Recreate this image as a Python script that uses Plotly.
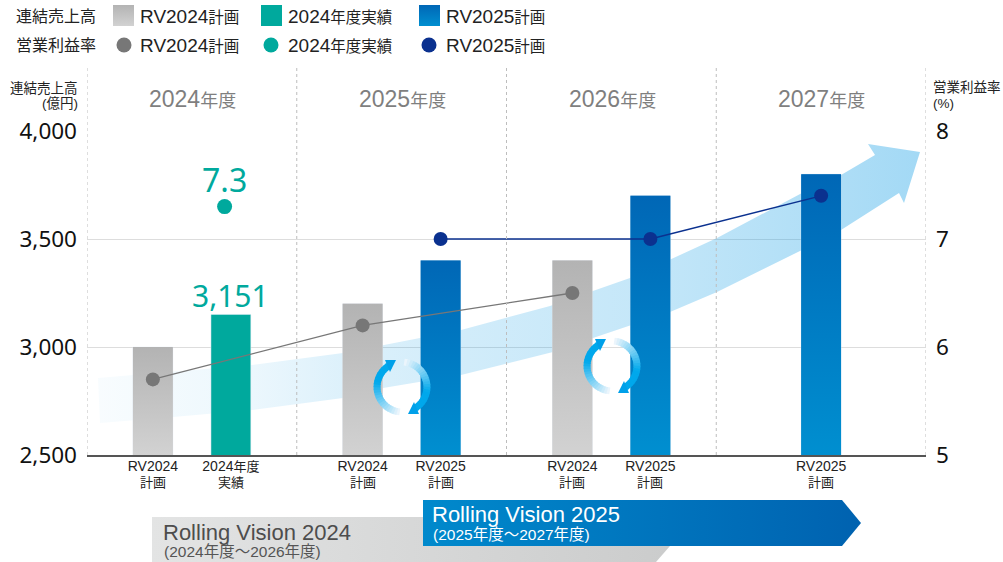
import math
import plotly.graph_objects as go

W, H = 1003, 562
PLOT_L, PLOT_R, PLOT_T, PLOT_B = 87, 926, 131, 455

years = [2024, 2025, 2026, 2027]
year_digits = ["2024", "2025", "2026", "2027"]

sales_rv2024_years = [2024, 2025, 2026]
sales_rv2024 = [3000, 3200, 3400]
sales_actual_years = [2024]
sales_actual = [3151]
sales_rv2025_years = [2025, 2026, 2027]
sales_rv2025 = [3400, 3700, 3800]

margin_rv2024 = [5.7, 6.2, 6.5]
margin_actual = [7.3]
margin_rv2025 = [7.0, 7.0, 7.4]

sales_ticks = [2500, 3000, 3500, 4000]
margin_ticks = [5, 6, 7, 8]

GRAY_SCALE = [[0, "#d2d2d2"], [1, "#b3b3b3"]]
BLUE_SCALE = [[0, "#008fd0"], [1, "#0067b6"]]
TEAL = "#00a99d"
NAVY = "#0b318f"
MID_GRAY = "#777777"
FONT = "Liberation Sans, Noto Sans CJK JP, sans-serif"
NUM_FONT = "Noto Sans, sans-serif"

BAR_WIDTH = 0.19
SIDE = 0.186
x_range = [2023.5, 2027.5]


def px(x):
    return x / W


def py(y):
    return 1 - y / H


def x_data(x):
    return x_range[0] + (x - PLOT_L) / (PLOT_R - PLOT_L) * (x_range[1] - x_range[0])


def y_data(y):
    return 2500 + (PLOT_B - y) / (PLOT_B - PLOT_T) * 1500


left = [y - SIDE for y in sales_rv2024_years]
# the last year has only one bar, so it sits in the middle
right = [y + SIDE if y < 2027 else y for y in sales_rv2025_years]
actual_x = [y + SIDE for y in sales_actual_years]
# the 7.3 dot sits a little left of its bar in the original
actual_dot_x = [v - 0.03 for v in actual_x]

fig = go.Figure()


def poly(xs, ys, scale=None, kind="horizontal", color=None, xaxis="x3", yaxis="y4"):
    kw = dict(fillgradient=dict(type=kind, colorscale=scale)) if scale else dict(fillcolor=color)
    fig.add_trace(go.Scatter(x=xs + xs[:1], y=ys + ys[:1], mode="lines", fill="toself",
                             line=dict(width=0), hoverinfo="skip", showlegend=False,
                             xaxis=xaxis, yaxis=yaxis, **kw))


# big sweeping arrow behind the bars
arrow_x = [98, 173, 252, 343, 383, 461, 550, 630, 717, 802, 841, 875, 868, 920, 904, 899,
           841, 802, 717, 670, 593, 553, 461, 383, 343, 252, 173, 100]
arrow_y = [378, 372, 365, 353, 345, 330, 306, 278, 238, 193, 175, 155, 144, 152, 203, 193,
           230, 250, 292, 312, 338, 352, 375, 388, 398, 410, 417, 423]
poly(arrow_x, arrow_y, xaxis="x2", yaxis="y3",
     scale=[[0, "rgba(25,160,230,0.03)"], [0.18, "rgba(25,160,230,0.08)"], [0.3, "rgba(25,160,230,0.15)"],
            [0.45, "rgba(25,160,230,0.2)"], [0.65, "rgba(25,160,230,0.25)"], [0.85, "rgba(25,160,230,0.33)"],
            [1, "rgba(25,160,230,0.4)"]])

# Rolling Vision banners
poly([152, 670, 670, 656, 152], [517, 517, 546, 562, 562], scale=[[0, "#e3e4e4"], [1, "#cbcccc"]])
poly([423, 842, 861, 842, 423], [500, 500, 523, 546, 546], scale=[[0, "#0089cc"], [1, "#0062b0"]])

# legend swatches
poly([113, 134, 134, 113], [5, 5, 26, 26], scale=GRAY_SCALE, kind="vertical")
poly([261, 282, 282, 261], [5, 5, 26, 26], color=TEAL)
poly([419, 440, 440, 419], [5, 5, 26, 26], scale=BLUE_SCALE, kind="vertical")
fig.add_trace(go.Scatter(x=[124, 271, 429], y=[45, 45, 45], mode="markers", hoverinfo="skip", showlegend=False,
                         marker=dict(size=15, color=[MID_GRAY, TEAL, NAVY]), xaxis="x3", yaxis="y4"))

# bars
fig.add_trace(go.Bar(x=left, y=sales_rv2024, width=BAR_WIDTH, name="RV2024計画", marker_color="#c2c2c2"))
fig.add_trace(go.Bar(x=actual_x, y=sales_actual, width=BAR_WIDTH, name="2024年度実績", marker_color=TEAL))
fig.add_trace(go.Bar(x=right, y=sales_rv2025, width=BAR_WIDTH, name="RV2025計画", marker_color="#007ac3"))

# vertical gradient painted over the plain bars
for xs, vals, scale in [(left, sales_rv2024, GRAY_SCALE), (right, sales_rv2025, BLUE_SCALE)]:
    for bx, v in zip(xs, vals):
        bx0, bx1 = bx - BAR_WIDTH / 2, bx + BAR_WIDTH / 2
        poly([bx0, bx1, bx1, bx0], [2500, 2500, v, v], scale=scale, kind="vertical", xaxis="x", yaxis="y")

# operating margin lines
fig.add_trace(go.Scatter(x=left, y=margin_rv2024, mode="lines+markers", name="RV2024計画", yaxis="y2",
                         line=dict(color=MID_GRAY, width=1.3), marker=dict(size=14, color=MID_GRAY)))
fig.add_trace(go.Scatter(x=actual_dot_x, y=margin_actual, mode="markers", name="2024年度実績", yaxis="y2",
                         marker=dict(size=15, color=TEAL)))
fig.add_trace(go.Scatter(x=right, y=margin_rv2025, mode="lines+markers", name="RV2025計画", yaxis="y2",
                         line=dict(color=NAVY, width=1.3), marker=dict(size=14, color=NAVY)))


def ring_arrow(cx, cy):
    # two clockwise arcs, pale at the tail and saturated at the head
    R = 25
    tail, head = (235, 245, 252), (0, 168, 236)
    for sign in (1, -1):
        steps = 24
        for i in range(steps):
            # angle measured clockwise from the top of the ring
            a0 = math.radians(5 + 145 * i / steps)
            a1 = math.radians(5 + 145 * (i + 1.3) / steps)
            t = min(1, (i / (steps - 1)) * 1.5)
            rgb = [round(c0 + (c1 - c0) * t) for c0, c1 in zip(tail, head)]
            xs = [x_data(cx + sign * R * math.sin(a)) for a in (a0, a1)]
            ys = [y_data(cy - sign * R * math.cos(a)) for a in (a0, a1)]
            fig.add_trace(go.Scatter(x=xs, y=ys, mode="lines", hoverinfo="skip", showlegend=False,
                                     line=dict(color=f"rgb({rgb[0]},{rgb[1]},{rgb[2]})", width=7)))
        hx = [cx + sign * d for d in (6, 17, 12)]
        hy = [cy + sign * d for d in (27, 27, 15)]
        poly([x_data(v) for v in hx], [y_data(v) for v in hy], color="#00a0e9", xaxis="x", yaxis="y")


ring_arrow(402, 387)
ring_arrow(612, 366)

shapes = [dict(type="line", xref="x", yref="paper", x0=y - 0.5, x1=y - 0.5, y0=py(PLOT_B), y1=py(67),
               line=dict(color="#bdbdbd", width=1, dash="dot")) for y in years + [2028]]

annotations = []


def note(x, y, text, size, color="#222222", anchor="center", font=FONT):
    annotations.append(dict(xref="paper", yref="paper", x=px(x), y=py(y), text=text, showarrow=False,
                            xanchor=anchor, yanchor="middle", font=dict(size=size, color=color, family=font)))


def big(text, size):
    return f'<span style="font-size:{size}px">{text}</span>'


# legend rows
for row_y, row_name in [(16, "連結売上高"), (45, "営業利益率")]:
    note(14, row_y, row_name, 16, anchor="left")
    note(138, row_y, big("RV2024", 19) + "計画", 15.5, anchor="left")
    note(286, row_y, big("2024", 19) + "年度実績", 15.5, anchor="left")
    note(444, row_y, big("RV2025", 19) + "計画", 15.5, anchor="left")

# axis captions
note(80, 88, "連結売上高", 13.5, anchor="right")
note(80, 103, "(億円)", 13.5, anchor="right")
note(931, 88, "営業利益率", 13.5, anchor="left")
note(931, 103, "(%)", 13.5, anchor="left")

for cx, digits in zip([192, 402, 612, 821], year_digits):
    note(cx, 99, big(digits, 23) + "年度", 18, color="#7f7f7f")

# value call-outs
note(224, 179, f"{margin_actual[0]}", 32, color=TEAL, font=NUM_FONT)
note(230, 295, f"{sales_actual[0]:,}", 30, color=TEAL, font=NUM_FONT)

# second line of the category labels
for bx, label in zip(left + actual_x + right, ["計画"] * 3 + ["実績"] + ["計画"] * 3):
    annotations.append(dict(xref="x", yref="paper", x=bx, y=py(482), text=label, showarrow=False,
                            yanchor="middle", font=dict(size=13, color="#222222", family=FONT)))

# banner text
note(161, 532, "Rolling Vision 2024", 22, color="#4d4d4d", anchor="left")
note(162, 551, "(2024年度～2026年度)", 15.5, color="#555555", anchor="left")
note(430, 514, "Rolling Vision 2025", 22, color="#ffffff", anchor="left")
note(431, 534, "(2025年度～2027年度)", 15.5, color="#ffffff", anchor="left")

tick_x = left + actual_x + right
tick_text = ["RV2024"] * 3 + ['2024<span style="font-size:13px">年度</span>'] + ["RV2025"] * 3

plot_x = [px(PLOT_L), px(PLOT_R)]
plot_y = [py(PLOT_B), py(PLOT_T)]

fig.update_layout(
    width=W, height=H, margin=dict(l=0, r=0, t=0, b=0),
    paper_bgcolor="white", plot_bgcolor="rgba(0,0,0,0)",
    showlegend=False, barmode="overlay", font=dict(family=FONT),
    shapes=shapes, annotations=annotations,
    xaxis=dict(range=x_range, overlaying="x2", showgrid=False, zeroline=False, automargin=False,
               tickmode="array", tickvals=tick_x, ticktext=tick_text, ticks="",
               tickfont=dict(size=14, color="#222222"), ticklabelstandoff=-3,
               showline=True, linecolor="#555555", linewidth=2),
    yaxis=dict(range=[2500, 4000], overlaying="y3", tickvals=sales_ticks, automargin=False,
               tickformat=",d", tickfont=dict(size=22.5, color="#111111", family=NUM_FONT),
               gridcolor="#dddddd", gridwidth=1, zeroline=False, ticks="", ticklabelstandoff=9),
    yaxis2=dict(range=[5, 8], overlaying="y3", side="right", anchor="x", automargin=False,
                tickvals=margin_ticks, tickfont=dict(size=22.5, color="#111111", family=NUM_FONT),
                showgrid=False, zeroline=False, ticks="", ticklabelstandoff=9),
    # pixel axes: x2/y3 lie under the chart, x3/y4 cover the whole page
    xaxis2=dict(domain=plot_x, range=[PLOT_L, PLOT_R], visible=False, anchor="y3", automargin=False),
    yaxis3=dict(domain=plot_y, range=[PLOT_B, PLOT_T], visible=False, anchor="x2", automargin=False),
    xaxis3=dict(domain=[0, 1], range=[0, W], visible=False, anchor="y4", automargin=False),
    yaxis4=dict(domain=[0, 1], range=[H, 0], visible=False, anchor="x3", automargin=False),
)

fig.write_html("out.html", post_script="document.body.style.margin='0';", config=dict(displayModeBar=False))
